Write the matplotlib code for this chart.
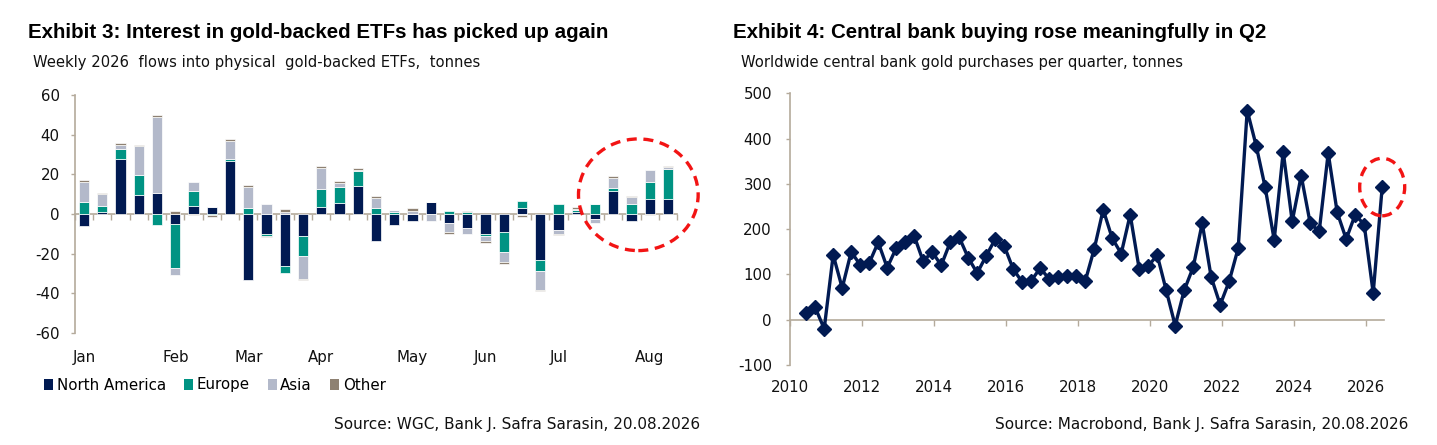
import numpy as np
import pandas as pd
import matplotlib
matplotlib.use("Agg")
import matplotlib.pyplot as plt
from matplotlib.patches import Ellipse, Patch

# ---------------- Exhibit 3 data: weekly 2026 ETF flows (tonnes) ----------------
month_labels = ["Jan", "Feb", "Mar", "Apr", "May", "Jun", "Jul", "Aug"]
month_label_week = [0, 5, 9, 13, 18, 22, 26, 31]
series_names = ["North America", "Europe", "Asia", "Other"]
north_america = [-6, 1, 27.5, 9.7, 10.5, -5.2, 4, 3.3, 26.7, -33.3, -10, -26, -11,
                 3.3, 5.7, 14.2, -13.7, -5.3, -3.5, 5.8, -4.3, -7, -10.3, -9.2,
                 3.2, -23, -8, 1, -2.5, 11.7, -3.5, 7.7, 7.7]
europe = [6, 3, 5.5, 10, -5.3, -21.8, 7.7, -0.5, 1, 3.2, -1, -3.7, -10,
          9.4, 8, 7.5, 3.2, 1, 0, 0.5, 1.3, 1, -0.7, -10.1,
          3.6, -5.7, 5, 1, 5, 1.6, 5, 8.3, 15]
asia = [10.3, 6, 2, 14.5, 38.5, -3.7, 4.6, 0, 9.3, 10.3, 5, 1, -11.7,
        10.6, 2, 0.3, 5.1, 1, 1.7, -3.3, -5, -3, -2.7, -5,
        -0.5, -9.6, -2, 0.5, -1.8, 4.7, 3.7, 6, 1]
other = [1, 0.8, 1, 0.8, 1, 1.3, -0.5, -0.8, 0.8, 1, -0.7, 1.3, -0.6,
         0.7, 1, 1, 0.7, 0, 1.3, 0, -0.7, 0.3, -0.7, -0.7,
         -0.8, -0.7, -0.7, 0.8, 0, 1, 0.3, -0.5, 0.3]
etf_yticks = [-60, -40, -20, 0, 20, 40, 60]

# ---------------- Exhibit 4 data: central bank purchases per quarter (tonnes) ----
cb_first_quarter = "2010Q2"
cb_last_quarter = "2026Q2"
cb_purchases = [15, 27, -20, 143, 70, 150, 121, 125, 171, 115, 158, 171, 185, 129,
                150, 120, 171, 182, 137, 103, 141, 178, 163, 112, 83, 86, 114, 90,
                95, 97, 96, 85, 156, 243, 180, 146, 232, 112, 118, 143, 65, -13,
                65, 116, 213, 94, 33, 85, 158, 462, 384, 292, 176, 371, 217, 318,
                213, 195, 368, 237, 178, 232, 210, 59, 293]
cb_year_ticks = [2010, 2012, 2014, 2016, 2018, 2020, 2022, 2024, 2026]
cb_yticks = [-100, 0, 100, 200, 300, 400, 500]

# ---------------- styles ----------------
NAVY = "#011A52"
TEAL = "#009383"
ASIA = "#B3B9CA"
OTHER = "#8E8172"
SPINE = "#B4AA9B"
TXT = "#111111"
RED = "#F21414"
colors = [NAVY, TEAL, ASIA, OTHER]
W, H = 1437, 445
BODY = ["DejaVu Sans"]
TITLE = ["Liberation Sans", "DejaVu Sans"]
TICK_FS = 10.8

plt.rcParams["font.family"] = BODY
plt.rcParams["axes.unicode_minus"] = False

fig = plt.figure(figsize=(W / 100, H / 100), dpi=100)


def style_axes(ax, ypad):
    for s in ["top", "right"]:
        ax.spines[s].set_visible(False)
    for s in ["left", "bottom"]:
        ax.spines[s].set_color(SPINE)
        ax.spines[s].set_linewidth(1.2)
    ax.spines["bottom"].set_position(("data", 0))
    ax.tick_params(axis="y", direction="out", length=3, color=SPINE, width=1,
                   labelsize=TICK_FS, pad=ypad, labelcolor=TXT)
    ax.tick_params(axis="x", direction="out", length=4, color=SPINE, width=1,
                   labelbottom=False)


def bottom_labels(ax, ticks, labels, pad):
    sec = ax.secondary_xaxis("bottom")
    sec.set_xticks(ticks)
    sec.set_xticklabels(labels)
    sec.tick_params(axis="x", length=0, labelsize=TICK_FS, pad=pad, labelcolor=TXT)
    for s in sec.spines.values():
        s.set_visible(False)
    return sec


# ================= Left chart =================
ax1 = fig.add_axes([75 / W, 1 - 333 / H, 602 / W, 238 / H])
data = np.array([north_america, europe, asia, other], dtype=float)
x = np.arange(data.shape[1])
pos_bottom = np.zeros(data.shape[1])
neg_bottom = np.zeros(data.shape[1])
for vals, c, name in zip(data, colors, series_names):
    b = np.where(vals >= 0, pos_bottom, neg_bottom)
    ax1.bar(x, vals, bottom=b, width=0.56, color=c, edgecolor="white",
            linewidth=0.5, label=name, zorder=3)
    pos_bottom = pos_bottom + np.where(vals >= 0, vals, 0)
    neg_bottom = neg_bottom + np.where(vals < 0, vals, 0)

ax1.set_xlim(-0.5, len(x) - 0.5)
ax1.set_ylim(etf_yticks[0], etf_yticks[-1])
ax1.set_yticks(etf_yticks)
ax1.set_xticks(np.arange(-0.5, len(x), 1.0))
style_axes(ax1, 8)
bottom_labels(ax1, month_label_week, month_labels, 12)

last = x[-4:]
ax1.add_patch(Ellipse((last.mean() - 0.12, 9.7), 6.56, 56.3, fill=False,
                      edgecolor=RED, linewidth=2.4, linestyle=(0, (3, 2)),
                      clip_on=False, zorder=5))

handles = [Patch(facecolor=c, edgecolor="none", label=n) for c, n in zip(colors, series_names)]
ax1.legend(handles=handles, loc="center left", bbox_to_anchor=(44 / W, 1 - 385 / H),
           bbox_transform=fig.transFigure, ncol=4, frameon=False, fontsize=10.8,
           handlelength=0.6, handleheight=0.75, handletextpad=0.25,
           columnspacing=1.2, borderaxespad=0, borderpad=0)

# ================= Right chart =================
ax2 = fig.add_axes([790 / W, 1 - 365 / H, 594 / W, 271.7 / H])
quarters = pd.period_range(cb_first_quarter, cb_last_quarter, freq="Q")
qx = quarters.year + quarters.quarter * 0.25 - 0.05
ax2.plot(qx, cb_purchases, color=NAVY, linewidth=2.4, marker="D",
         markersize=7.5, markerfacecolor=NAVY, markeredgecolor=NAVY,
         clip_on=False, zorder=4)
ax2.set_xlim(cb_year_ticks[0], 2026.5)
ax2.set_ylim(cb_yticks[0], cb_yticks[-1])
ax2.set_yticks(cb_yticks)
ax2.set_xticks(cb_year_ticks)
style_axes(ax2, 10)
bottom_labels(ax2, cb_year_ticks, [str(y) for y in cb_year_ticks], 11)

ax2.add_patch(Ellipse((qx[-1], cb_purchases[-1]), 1.25, 127, fill=False,
                      edgecolor=RED, linewidth=2.4, linestyle=(0, (3, 2)),
                      clip_on=False, zorder=5))

# ================= Texts =================
fig.text(28 / W, 1 - 32 / H, "Exhibit 3: Interest in gold-backed ETFs has picked up again",
         family=TITLE, weight="bold", fontsize=14.8, va="center", ha="left", color="black")
fig.text(33 / W, 1 - 63 / H, "Weekly 2026  flows into physical  gold-backed ETFs,  tonnes",
         fontsize=10.6, va="center", ha="left", color=TXT)
fig.text(733 / W, 1 - 32 / H, "Exhibit 4: Central bank buying rose meaningfully in Q2",
         family=TITLE, weight="bold", fontsize=14.8, va="center", ha="left", color="black")
fig.text(741 / W, 1 - 62 / H, "Worldwide central bank gold purchases per quarter, tonnes",
         fontsize=10.6, va="center", ha="left", color=TXT)
fig.text(700 / W, 1 - 425 / H, "Source: WGC, Bank J. Safra Sarasin, 20.08.2026",
         fontsize=11, va="center", ha="right", color=TXT)
fig.text(1408 / W, 1 - 425 / H, "Source: Macrobond, Bank J. Safra Sarasin, 20.08.2026",
         fontsize=11, va="center", ha="right", color=TXT)

fig.savefig("out.png", dpi=100)
